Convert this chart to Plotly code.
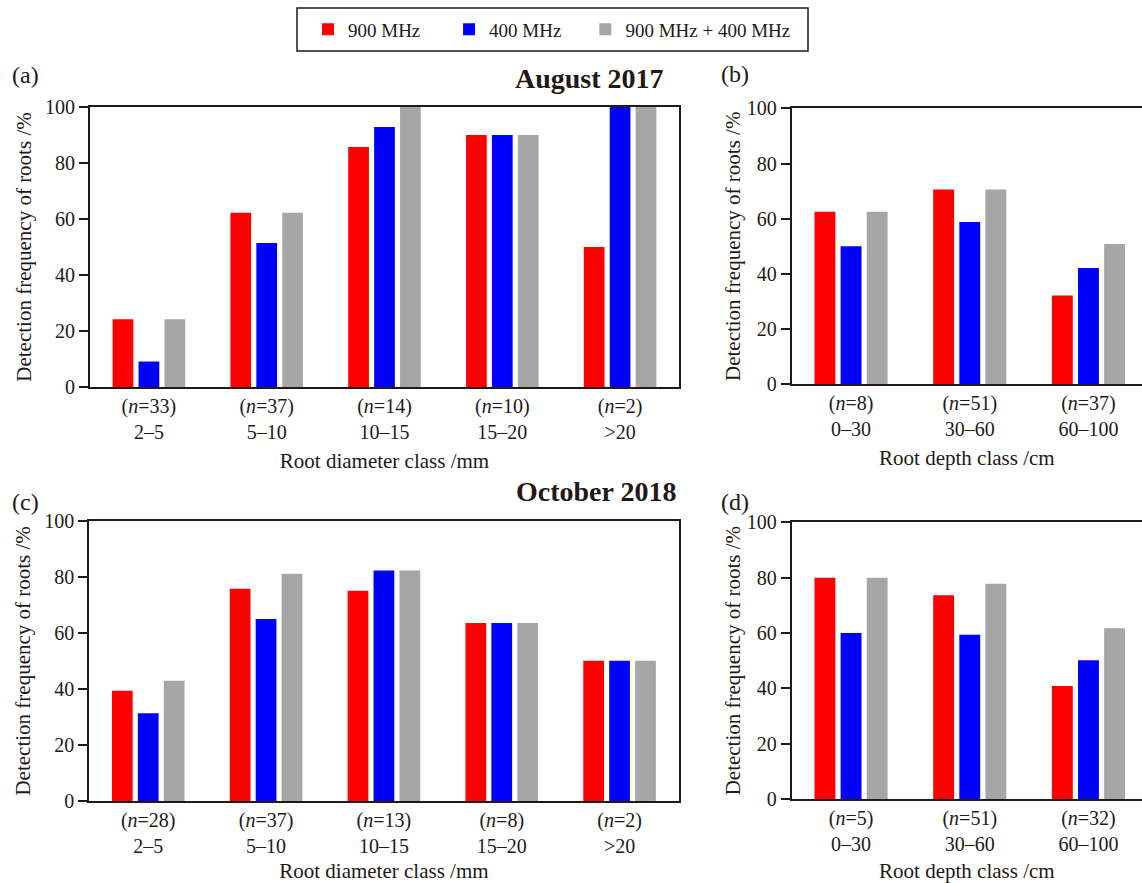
import plotly.graph_objects as go

# ---------------- data ----------------
series_names = ["900 MHz", "400 MHz", "900 MHz + 400 MHz"]
series_colors = ["#FF0000", "#0000FF", "#A6A6A6"]

diameter_classes = ["2–5", "5–10", "10–15", "15–20", ">20"]
depth_classes = ["0–30", "30–60", "60–100"]

# (a) August 2017, root diameter
a_n = [33, 37, 14, 10, 2]
a_900 = [24.2, 62.2, 85.7, 90.0, 50.0]
a_400 = [9.1, 51.4, 92.9, 90.0, 100.0]
a_both = [24.2, 62.2, 100.0, 90.0, 100.0]

# (b) August 2017, root depth
b_n = [8, 51, 37]
b_900 = [62.5, 70.6, 32.2]
b_400 = [50.0, 58.8, 42.1]
b_both = [62.5, 70.6, 50.8]

# (c) October 2018, root diameter
c_n = [28, 37, 13, 8, 2]
c_900 = [39.3, 75.7, 75.0, 63.5, 50.0]
c_400 = [31.3, 64.9, 82.2, 63.5, 50.0]
c_both = [42.9, 81.1, 82.2, 63.5, 50.0]

# (d) October 2018, root depth
d_n = [5, 51, 32]
d_900 = [80.0, 73.6, 40.8]
d_400 = [60.0, 59.4, 50.1]
d_both = [80.0, 77.8, 61.7]

y_ticks = [0, 20, 40, 60, 80, 100]

# ---------------- layout geometry ----------------
W, H = 1142, 883
INK = "#231815"
FONT = "Liberation Serif, Times New Roman, serif"
NB = "\u00a0"


def px_x(p):
    return p / W


def px_y(p):
    return 1 - p / H


panels = [
    ("", diameter_classes, a_n, (a_900, a_400, a_both), (90, 679), (107, 387), [-0.5, 4.5], True),
    ("2", depth_classes, b_n, (b_900, b_400, b_both), (791.7, 1142), (108.3, 384.3), [-0.5, 2.451], False),
    ("3", diameter_classes, c_n, (c_900, c_400, c_both), (89.3, 678.5), (520.7, 801), [-0.5, 4.5], True),
    ("4", depth_classes, d_n, (d_900, d_400, d_both), (791.7, 1142), (522.3, 799), [-0.5, 2.451], False),
]

legend_labels = [series_names[0] + NB * 5, series_names[1] + NB * 4, series_names[2]]

fig = go.Figure()
layout_axes = {}

for i, (ax, classes, nvals, vals, xd, yd, xr, full_box) in enumerate(panels):
    xref = "x" + ax
    yref = "y" + ax
    for s, (name, color, v) in enumerate(zip(legend_labels, series_colors, vals)):
        fig.add_trace(go.Bar(
            x=classes, y=v, name=name, marker_color=color,
            marker_line_width=0,
            xaxis=xref, yaxis=yref,
            legendgroup=series_names[s], showlegend=(i == 0),
            hovertemplate=series_names[s] + ": %{y}<extra></extra>",
        ))
    ticktext = [f"(<i>n</i>={n})<br>{c}" for n, c in zip(nvals, classes)]
    is_diam = classes is diameter_classes
    layout_axes["xaxis" + ax] = dict(
        domain=[px_x(xd[0]), px_x(xd[1])],
        anchor=yref,
        range=xr,
        tickmode="array", tickvals=classes, ticktext=ticktext,
        ticks="", showline=True, linecolor=INK, linewidth=2,
        mirror=True, showgrid=False, zeroline=False,
        tickfont=dict(family=FONT, size=20, color=INK),
        title=dict(text="Root diameter class /mm" if is_diam else "Root depth class /cm",
                   font=dict(family=FONT, size=21, color=INK), standoff=11),
        automargin=False,
    )
    layout_axes["yaxis" + ax] = dict(
        domain=[px_y(yd[1]), px_y(yd[0])],
        anchor=xref,
        range=[0, 100],
        tickmode="array", tickvals=y_ticks,
        ticks="outside", ticklen=9, tickwidth=1.5, tickcolor=INK,
        showline=True, linecolor=INK, linewidth=2,
        mirror=True if full_box else False,
        showgrid=False, zeroline=False,
        tickfont=dict(family=FONT, size=20, color=INK),
        title=dict(text="Detection frequency of roots /%",
                   font=dict(family=FONT, size=21, color=INK),
                   standoff=8 if full_box else 0),
        automargin=False,
    )

fig.update_layout(**layout_axes)

anns = []
for text, x, y in [("(a)", 25, 75), ("(b)", 735, 74), ("(c)", 25, 502), ("(d)", 735, 502)]:
    anns.append(dict(text=text, x=px_x(x), y=px_y(y), xref="paper", yref="paper",
                     xanchor="center", yanchor="middle", showarrow=False,
                     font=dict(family=FONT, size=24, color=INK)))
anns.append(dict(text="<b>August 2017</b>", x=px_x(666), y=px_y(78), xref="paper", yref="paper",
                 xanchor="right", yanchor="middle", showarrow=False,
                 font=dict(family=FONT, size=28, color=INK)))
anns.append(dict(text="<b>October 2018</b>", x=px_x(678), y=px_y(492), xref="paper", yref="paper",
                 xanchor="right", yanchor="middle", showarrow=False,
                 font=dict(family=FONT, size=28, color=INK)))

# legend frame
shapes = [dict(type="rect", xref="paper", yref="paper",
               x0=px_x(297), x1=px_x(808), y0=px_y(51), y1=px_y(8),
               line=dict(color=INK, width=1.5), fillcolor="rgba(0,0,0,0)")]

fig.update_layout(
    width=W, height=H,
    margin=dict(l=0, r=0, t=0, b=0),
    paper_bgcolor="white", plot_bgcolor="white",
    barmode="group", bargap=0.34, bargroupgap=0.2,
    annotations=anns, shapes=shapes,
    font=dict(family=FONT, color=INK),
    legend=dict(
        orientation="h", x=px_x(308), y=px_y(29.5), xanchor="left", yanchor="middle",
        borderwidth=0, bgcolor="rgba(0,0,0,0)",
        font=dict(family=FONT, size=19, color=INK),
        itemclick=False, itemdoubleclick=False,
    ),
)

fig.write_html("out.html")
